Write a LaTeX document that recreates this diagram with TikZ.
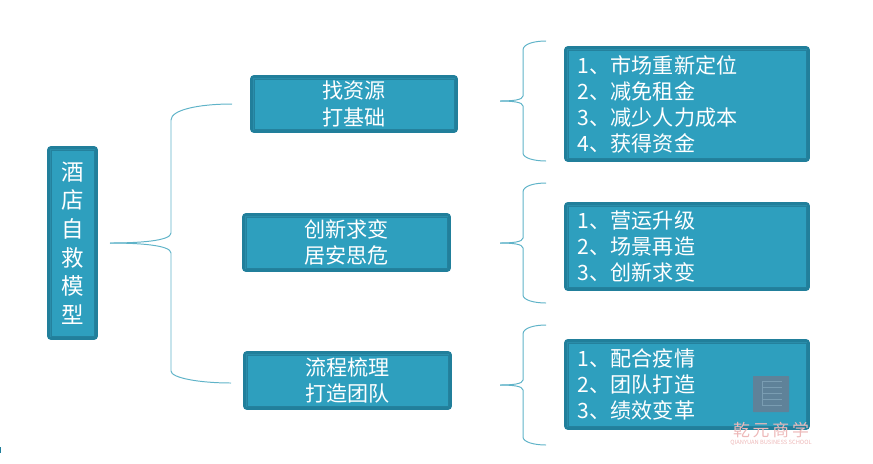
\documentclass[tikz,border=0pt]{standalone}
\usepackage{fontspec}
\setmainfont{Noto Sans CJK SC}
\definecolor{boxfill}{HTML}{2E9FBE}
\definecolor{boxdark}{HTML}{217F9B}
\definecolor{boxmid}{HTML}{2A8DAA}
\definecolor{boxline}{HTML}{24819D}
\definecolor{braceline}{HTML}{5FB3C8}
\definecolor{stampgray}{HTML}{5F8299}
\definecolor{stampline}{HTML}{7A9DB2}
\definecolor{stamppink}{HTML}{EDB9B9}
\tikzset{
  tealbox/.style={rectangle,preaction={draw=boxdark,line width=0.2cm,line join=round},preaction={draw=boxmid,line width=0.06cm},fill=boxfill,draw=boxline,line width=0.4pt,text=white,font=\fontsize{15}{19}\selectfont,inner sep=0pt,align=center},
  listbox/.style={tealbox,align=left,font=\fontsize{15}{18.5}\selectfont,minimum width=5.95cm,text width=5.45cm},
  curlyline/.style={draw=braceline,line width=0.7pt},
}
\begin{document}
\begin{tikzpicture}[x=0.025cm,y=-0.025cm]
\useasboundingbox (0,0) rectangle (873,463);
\draw (72.5,243)node(root)[tealbox,minimum width=1.075cm,minimum height=4.65cm,font=\fontsize{16}{20.3}\selectfont]{酒\\店\\自\\救\\模\\型};
\draw (354,104)node(findres)[tealbox,minimum width=5cm,minimum height=1.25cm]{找资源\\打基础};
\draw (346.5,242.5)node(innov)[tealbox,minimum width=5.02cm,minimum height=1.275cm]{创新求变\\居安思危};
\draw (347.5,380.5)node(flow)[tealbox,minimum width=5.02cm,minimum height=1.275cm]{流程梳理\\打造团队};
\draw (687,104)node(listA)[listbox,minimum height=2.7cm]{1、市场重新定位\\2、减免租金\\3、减少人力成本\\4、获得资金};
\draw (687,246.5)node(listB)[listbox,minimum height=2.03cm]{1、营运升级\\2、场景再造\\3、创新求变};
\draw (687,384.5)node(listC)[listbox,minimum height=2.08cm]{1、配合疫情\\2、团队打造\\3、绩效变革};

% main brace
\coordinate (mainTip) at (110,243);
\coordinate (mainTop) at (232,104);
\coordinate (mainBot) at (231,383);
\draw[curlyline] (mainTip) .. controls (138,243) and (171,241) .. (171,233) -- (171,120) .. controls (171,110) and (198,104) .. (mainTop);
\draw[curlyline] (mainTip) .. controls (138,243) and (171,245) .. (171,253) -- (171,371) .. controls (171,378) and (200,383) .. (mainBot);
% right braces
\coordinate (tipA) at (500,101);
\coordinate (topA) at (546,41);
\coordinate (botA) at (546,161);
\draw[curlyline] (tipA) .. controls (512,101) and (523,100) .. (523,96) -- (523,50) .. controls (523,44) and (534,41) .. (topA);
\draw[curlyline] (tipA) .. controls (512,101) and (523,102) .. (523,106) -- (523,153) .. controls (523,158) and (534,161) .. (botA);
\coordinate (tipB) at (500,243);
\coordinate (topB) at (546,183);
\coordinate (botB) at (546,303);
\draw[curlyline] (tipB) .. controls (512,243) and (523,242) .. (523,238) -- (523,192) .. controls (523,186) and (534,183) .. (topB);
\draw[curlyline] (tipB) .. controls (512,243) and (523,244) .. (523,248) -- (523,295) .. controls (523,300) and (534,303) .. (botB);
\coordinate (tipC) at (500,385);
\coordinate (topC) at (546,325);
\coordinate (botC) at (546,445);
\draw[curlyline] (tipC) .. controls (512,385) and (523,384) .. (523,380) -- (523,334) .. controls (523,328) and (534,325) .. (topC);
\draw[curlyline] (tipC) .. controls (512,385) and (523,386) .. (523,390) -- (523,437) .. controls (523,442) and (534,445) .. (botC);

% stamp
\draw (771,394)node(stamp)[rectangle,minimum width=0.9cm,minimum height=0.9cm,fill=stampgray,rounded corners=0.5pt]{};
\foreach \i in {381,387,393,399,405}
  \draw[stampline,line width=0.5pt] (762,\i)--(782,\i);
\draw[stampline,line width=0.5pt] (762,381)--(762,405);
\draw (771,430)node(stampcn)[text=stamppink,font=\fontsize{12}{12}\selectfont,inner sep=0pt]{乾\,元\,商\,学};
\draw (771,443)node(stampen)[text=stamppink,font=\fontsize{4.1}{5}\selectfont,inner sep=0pt]{QIANYUAN BUSINESS SCHOOL};
% edge speck
\fill[boxdark] (0,447) rectangle (1.5,453);
\end{tikzpicture}
\end{document}
